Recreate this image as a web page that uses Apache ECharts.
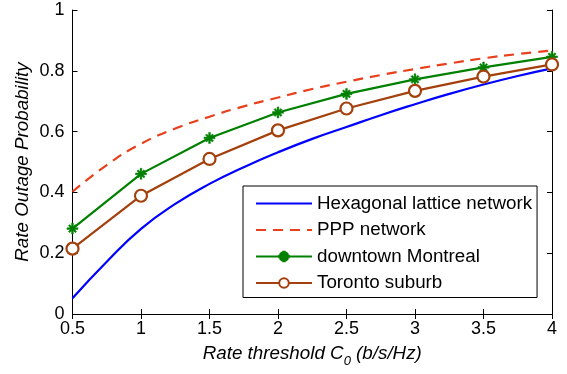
<!DOCTYPE html>
<html>
<head>
<meta charset="utf-8">
<script src="https://cdn.jsdelivr.net/npm/echarts@6/dist/echarts.min.js"></script>
<style>html,body{margin:0;padding:0;background:#fff}#c{width:567px;height:374px}</style>
</head>
<body>
<div id="c"></div>
<script>
var curveX = [0.5,0.75,1,1.25,1.5,1.75,2,2.25,2.5,2.75,3,3.25,3.5,3.75,4];
var hexValues = [0.052,0.172,0.28,0.362,0.428,0.483,0.532,0.576,0.615,0.654,0.69,0.724,0.755,0.783,0.808];
var pppValues = [0.402,0.49,0.56,0.61,0.649,0.683,0.712,0.74,0.764,0.786,0.806,0.824,0.841,0.855,0.867];
var markX = [0.5,1,1.5,2,2.5,3,3.5,4];
var montrealValues = [0.281,0.461,0.579,0.663,0.724,0.772,0.811,0.846];
var torontoValues = [0.215,0.389,0.51,0.604,0.676,0.734,0.781,0.821];
var seriesNames = ['Hexagonal lattice network','PPP network','downtown Montreal','Toronto suburb'];
var xTicks = {min:0.5, max:4, step:0.5};
var yTicks = {min:0, max:1, step:0.2};

function pairs(xs, ys){ return xs.map(function(x,i){ return [x, ys[i]]; }); }
var FONT = '"Liberation Sans", Arial, Helvetica, sans-serif';
var asterisk = 'path://M4.2,0 L5.8,0 L5.8,10 L4.2,10 Z M0,4.2 L10,4.2 L10,5.8 L0,5.8 Z M1.3,2.4 L2.4,1.3 L8.7,7.6 L7.6,8.7 Z M7.6,1.3 L8.7,2.4 L2.4,8.7 L1.3,7.6 Z';

var chart = echarts.init(document.getElementById('c'));
var axisLine = {show:true, lineStyle:{color:'#000', width:1}};
chart.setOption({
  animation:false,
  backgroundColor:'#fff',
  grid:{left:72.5, right:15, top:10, bottom:60, containLabel:false},
  legend:{
    orient:'vertical', left:243, top:186,
    backgroundColor:'#fff', borderColor:'#000', borderWidth:1,
    padding:[8,5,5,12], itemWidth:56, itemHeight:12, itemGap:7.5,
    textStyle:{fontFamily:FONT, fontSize:18.8, color:'#000'},
    data:[
      {name:seriesNames[0], itemStyle:{opacity:0}},
      {name:seriesNames[1], itemStyle:{opacity:0}},
      {name:seriesNames[2]},
      {name:seriesNames[3]}
    ]
  },
  xAxis:[{
    type:'value', min:xTicks.min, max:xTicks.max, interval:xTicks.step,
    axisLine:axisLine, splitLine:{show:false},
    axisTick:{inside:true, length:5, lineStyle:{color:'#000'}},
    axisLabel:{fontFamily:FONT, fontSize:18, color:'#000', margin:6,
      formatter:function(v){return String(v);}},
    name:'{a|Rate threshold C}{s|0}{a| (b/s/Hz)}', nameLocation:'middle', nameGap:30,
    nameMoveOverlap:false,
    nameTextStyle:{rich:{
      a:{fontFamily:FONT, fontSize:18.8, fontStyle:'italic', color:'#000', lineHeight:20, verticalAlign:'top'},
      s:{fontFamily:FONT, fontSize:13, fontStyle:'italic', color:'#000', lineHeight:20, verticalAlign:'top', padding:[11,0,0,0]}
    }}
  },{
    type:'value', position:'top', min:xTicks.min, max:xTicks.max, interval:xTicks.step,
    axisLine:axisLine, splitLine:{show:false},
    axisTick:{inside:true, length:5, lineStyle:{color:'#000'}}, axisLabel:{show:false}
  }],
  yAxis:[{
    type:'value', min:yTicks.min, max:yTicks.max, interval:yTicks.step,
    axisLine:axisLine, splitLine:{show:false},
    axisTick:{inside:true, length:5, lineStyle:{color:'#000'}},
    axisLabel:{fontFamily:FONT, fontSize:18, color:'#000', margin:8,
      formatter:function(v){return String(Math.round(v*10)/10);}},
    name:'Rate Outage Probability', nameLocation:'middle', nameGap:40,
    nameMoveOverlap:false,
    nameTextStyle:{fontFamily:FONT, fontSize:18.8, fontStyle:'italic', color:'#000'}
  },{
    type:'value', position:'right', min:yTicks.min, max:yTicks.max, interval:yTicks.step,
    axisLine:axisLine, splitLine:{show:false},
    axisTick:{inside:true, length:5, lineStyle:{color:'#000'}}, axisLabel:{show:false}
  }],
  series:[
    {name:seriesNames[0], type:'line', smooth:0.5, showSymbol:false, symbol:'none',
     data:pairs(curveX, hexValues), lineStyle:{color:'#0000ff', width:2.2}, itemStyle:{color:'#0000ff'}},
    {name:seriesNames[1], type:'line', smooth:0.5, showSymbol:false, symbol:'none',
     data:pairs(curveX, pppValues), lineStyle:{color:'#e8401c', width:2.2, type:[10,7]}, itemStyle:{color:'#e8401c'}},
    {name:seriesNames[2], type:'line', symbol:asterisk, symbolSize:11,
     data:pairs(markX, montrealValues), lineStyle:{color:'#008000', width:2.2},
     itemStyle:{color:'#008000', borderColor:'#008000', borderWidth:0.5}},
    {name:seriesNames[3], type:'line', symbol:'circle', symbolSize:12,
     data:pairs(markX, torontoValues), lineStyle:{color:'#a3400c', width:2.2},
     itemStyle:{color:'#fff', borderColor:'#a3400c', borderWidth:2.2}}
  ]
});
</script>
</body>
</html>
